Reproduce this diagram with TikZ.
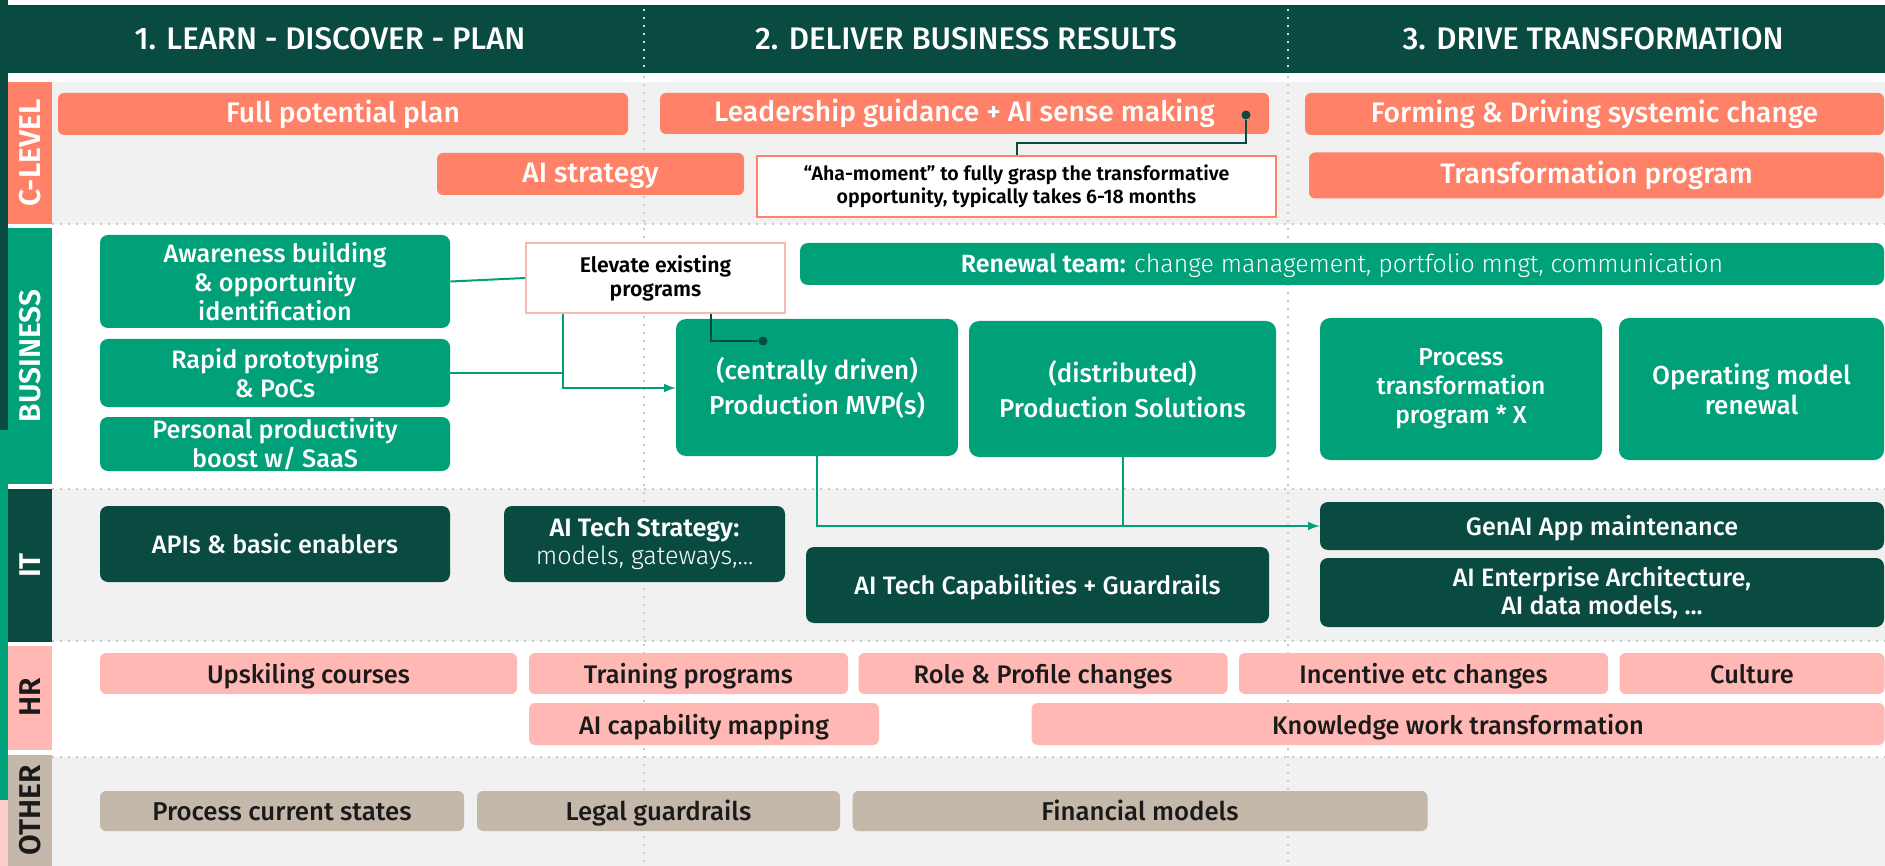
\documentclass[tikz,border=0pt]{standalone}
\usepackage{fontspec}
\setmainfont{Fira Sans}[UprightFont=* Medium, BoldFont=* SemiBold]
\newfontfamily\thinfont{Fira Sans}[UprightFont=* Light]
\usepackage{tikz}
\usetikzlibrary{arrows, calc}
\usepackage{color}

\definecolor{hdrgreen}{RGB}{10,75,65}
\definecolor{salmon}{RGB}{255,129,103}
\definecolor{bizgreen}{RGB}{0,160,120}
\definecolor{hrpink}{RGB}{255,184,180}
\definecolor{taupe}{RGB}{196,184,170}
\definecolor{lanegray}{RGB}{241,241,241}
\definecolor{softpink}{RGB}{246,184,176}
\definecolor{inkdark}{RGB}{26,26,26}
\definecolor{dotgray}{RGB}{200,200,200}

\tikzset{
  sz/.style 2 args={minimum width=#1*0.5pt, minimum height=#2*0.5pt},
  one/.style={text height=#1, text depth=0pt},
  box/.style={rounded corners=3pt, inner sep=0pt, align=center},
  cbox/.style={box, fill=salmon, text=white, one=8.2pt, font=\fontsize{14.1pt}{16pt}\selectfont},
  bbox/.style={box, rounded corners=4pt, fill=bizgreen, text=white, font=\fontsize{12.6pt}{14.5pt}\selectfont},
  ibox/.style={box, rounded corners=4pt, fill=hdrgreen, text=white, font=\fontsize{12.6pt}{14pt}\selectfont},
  hbox/.style={box, fill=hrpink, text=inkdark, one=10pt, font=\fontsize{12.7pt}{14pt}\selectfont},
  obox/.style={box, fill=taupe, text=inkdark, one=9.6pt, font=\fontsize{12.9pt}{14pt}\selectfont},
  note/.style={inner sep=0pt, align=center, fill=white, text=black, line width=1pt, font=\bfseries\fontsize{9.8pt}{11.5pt}\selectfont},
  lanelbl/.style={rotate=90, inner sep=0pt, font=\bfseries\fontsize{15pt}{15pt}\selectfont},
  hdr/.style={text=white, one=10.3pt, font=\fontsize{15.6pt}{16pt}\selectfont},
  gline/.style={draw=bizgreen, line width=1pt},
  dline/.style={draw=hdrgreen, line width=1pt},
  dotnode/.style={circle, fill=hdrgreen, inner sep=0pt, minimum size=4.5pt},
  sep/.style={line width=1pt, dash pattern=on 1pt off 3pt},
}

\begin{document}
\begin{tikzpicture}[x=0.5pt, y=-0.5pt]
    \useasboundingbox (0,0) rectangle (1885,866);
    \fill[white] (0,0) rectangle (1885,866);

    % lanes
    \fill[hdrgreen] (0,5) rectangle (1885,73);
    \fill[lanegray] (52,82) rectangle (1885,224);
    \fill[lanegray] (52,489) rectangle (1885,641);
    \fill[lanegray] (52,757) rectangle (1885,866);
    \fill[hdrgreen] (0,0) rectangle (8,430);
    \fill[bizgreen] (0,430) rectangle (8,800);
    \fill[hrpink!70] (0,800) rectangle (8,866);

    % dotted grid
    \foreach \y in {224,489,641,757}
        \draw[sep, dotgray] (52,\y) -- (1885,\y);
    \foreach \x in {644,1288} {
        \draw[sep, white!80!hdrgreen] (\x,9) -- (\x,72);
        \draw[sep, dotgray] (\x,76) -- (\x,866);
    }

    \node [hdr] (h1) at (330,39) {1. LEARN - DISCOVER - PLAN};
    \node [hdr] (h2) at (966,39) {2. DELIVER BUSINESS RESULTS};
    \node [hdr] (h3) at (1593,39) {3. DRIVE TRANSFORMATION};

    \node [lanelbl, fill=salmon, text=white, sz={142}{44}] (lclevel) at (30,153) {C-LEVEL};
    \node [lanelbl, fill=bizgreen, text=white, sz={256}{44}] (lbiz) at (30,356) {BUSINESS};
    \node [lanelbl, fill=hdrgreen, text=white, sz={153}{44}] (lit) at (30,565.5) {IT};
    \node [lanelbl, fill=hrpink, text=inkdark, sz={104}{44}] (lhr) at (30,697.5) {HR};
    \node [lanelbl, fill=taupe, text=inkdark, sz={111}{44}] (lother) at (30,810.5) {OTHER};

    % c-level
    \node [cbox, sz={570}{42}] (fullplan) at (343,114) {Full potential plan};
    \node [cbox, sz={307}{42}] (aistrat) at (590.5,174) {AI strategy};
    \node [cbox, sz={609}{41}] (leader) at (964.5,113.5) {Leadership guidance + AI sense making};
    \node [cbox, sz={579}{42}] (forming) at (1594.5,114) {Forming \& Driving systemic change};
    \node [cbox, sz={575}{46}] (transprog) at (1596.5,175.5) {Transformation program};
    \node [note, draw=salmon, sz={519}{61}] (aha) at (1016.5,186.5) {“Aha-moment” to fully grasp the transformative\\opportunity, typically takes 6-18 months};
    \node [dotnode] (leaddot) at (1246,115) {};

    % business
    \node [bbox, sz={350}{93}] (aware) at (275,281.5) {Awareness building\\\& opportunity\\identification};
    \node [bbox, sz={350}{68}] (rapid) at (275,373) {Rapid prototyping\\\& PoCs};
    \node [bbox, sz={350}{54}] (personal) at (275,444) {Personal productivity\\boost w/ SaaS};
    \node [note, draw=softpink, sz={259}{70}, font=\bfseries\fontsize{10.6pt}{12pt}\selectfont] (elevate) at (655.5,278) {Elevate existing\\programs};
    \node [bbox, sz={1084}{42}, one=9pt, font=\fontsize{12.45pt}{14pt}\selectfont] (renewal) at (1342,264) {\textbf{Renewal team:} {\thinfont change management, portfolio mngt, communication}};
    \node [bbox, rounded corners=5pt, sz={282}{137}, font=\fontsize{13pt}{17.5pt}\selectfont] (mvp) at (817,387.5) {(centrally driven)\\Production MVP(s)};
    \node [bbox, rounded corners=5pt, sz={307}{136}, font=\fontsize{12.9pt}{17.5pt}\selectfont] (distrib) at (1122.5,389) {(distributed)\\Production Solutions};
    \node [bbox, rounded corners=5pt, sz={282}{142}, font=\fontsize{12.3pt}{14.5pt}\selectfont] (process) at (1461,389) {Process\\transformation\\program * X};
    \node [bbox, rounded corners=5pt, sz={265}{142}, font=\fontsize{13pt}{15pt}\selectfont] (opmodel) at (1751.5,389) {Operating model\\renewal};
    \node [dotnode] (elvdot) at (763,341) {};

    % it
    \node [ibox, sz={350}{76}, one=9pt] (apis) at (275,544) {APIs \& basic enablers};
    \node [ibox, sz={281}{76}] (techstrat) at (644.5,544) {\textbf{AI Tech Strategy:}\\{\thinfont models, gateways,...}};
    \node [ibox, sz={463}{76}, one=9pt] (techcap) at (1037.5,585) {AI Tech Capabilities + Guardrails};
    \node [ibox, sz={564}{48}, one=9pt] (genai) at (1602,526) {GenAI App maintenance};
    \node [ibox, sz={564}{69}] (entarch) at (1602,592.5) {AI Enterprise Architecture,\\AI data models, ...};

    % hr
    \node [hbox, sz={417}{41}] (upskill) at (308.5,673.5) {Upskiling courses};
    \node [hbox, sz={319}{41}] (training) at (688.5,673.5) {Training programs};
    \node [hbox, sz={350}{42}] (aicap) at (704,724) {AI capability mapping};
    \node [hbox, sz={369}{41}] (role) at (1043,673.5) {Role \& Profile changes};
    \node [hbox, sz={369}{41}] (incentive) at (1423.5,673.5) {Incentive etc changes};
    \node [hbox, sz={265}{41}] (culture) at (1752,673.5) {Culture};
    \node [hbox, sz={853}{42}] (knowledge) at (1458,724) {Knowledge work transformation};

    % other
    \node [obox, sz={364}{40}] (current) at (282,811) {Process current states};
    \node [obox, sz={363}{40}] (legal) at (658.5,811) {Legal guardrails};
    \node [obox, sz={575}{40}] (financial) at (1140,811) {Financial models};

    % connectors
    \coordinate (elb) at (563,388);
    \draw[gline] (aware.east) -- (elevate.west);
    \draw[gline] (rapid.east) -- (rapid.east -| elb);
    \draw[gline, -latex] (elevate.south -| elb) -- (elb) -- (elb -| mvp.west);
    \draw[dline] ([xshift=27.75pt]elevate.south) |- (elvdot);
    \draw[dline] (leaddot) -- ++(0,28) -| (aha.north);
    \draw[gline, -latex] (mvp.south) |- (genai.west);
    \draw[gline] (distrib.south) -- (distrib.south |- genai.west);
\end{tikzpicture}
\end{document}
